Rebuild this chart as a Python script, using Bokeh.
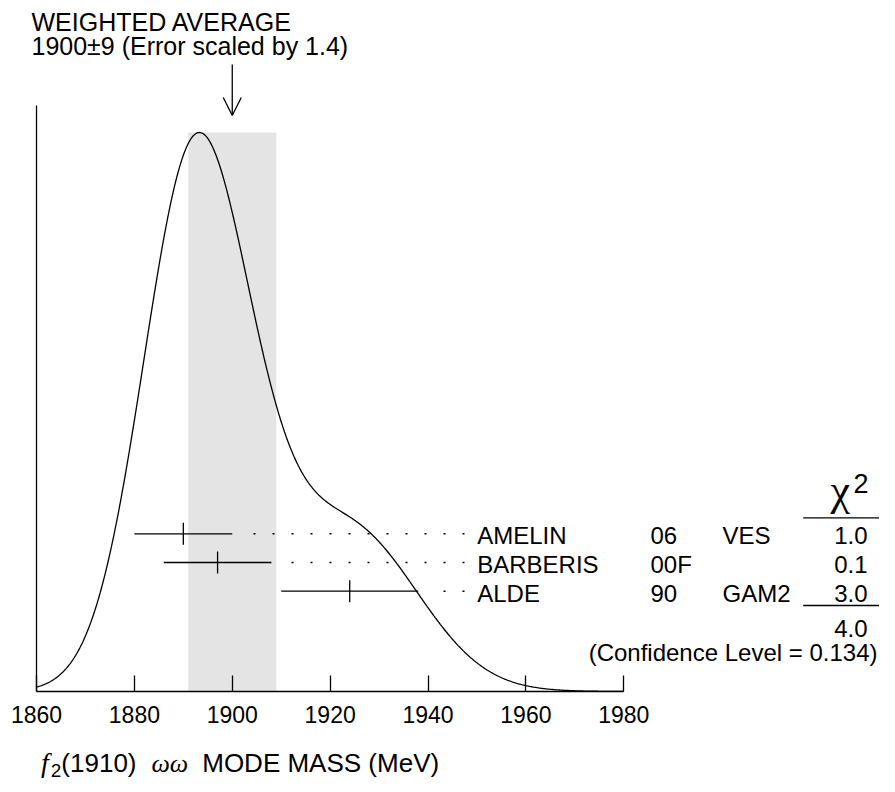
import numpy as np
from bokeh.plotting import figure
from bokeh.layouts import column
from bokeh.models import (LinearAxis, FixedTicker, Range1d, Label, Arrow, OpenHead, Div)
from bokeh.embed import file_html
from bokeh.resources import INLINE
from bokeh.core.properties import value

# ---------------- data ----------------
names = ["AMELIN", "BARBERIS", "ALDE"]
years = ["06", "00F", "90"]
experiments = ["VES", "", "GAM2"]
masses = [1890.0, 1897.0, 1924.0]
errors = [10.0, 11.0, 14.0]
chi2 = ["1.0", "0.1", "3.0"]
chi2_total = "4.0"
conf_level = "0.134"
avg_mass = 1900.0
avg_error = 9.0
err_scale = 1.4
tick_values = [1860, 1880, 1900, 1920, 1940, 1960, 1980]
tick_labels = ["1860", "1880", "1900", "1920", "1940", "1960", "1980"]

# ---------------- layout helpers (picture px -> data) ----------------
W = 879
FIG_H = 742
DIV_H = 776 - FIG_H
AX0_PX = 36.0          # x of axis start
PX_PER_MEV = 4.894
BASE_PY = 691.0        # y of baseline
PX_PER_UNIT = 559.0    # px per unit ideogram height
FONT = "Liberation Sans"


def mx(px):
    return tick_values[0] + (px - AX0_PX) / PX_PER_MEV


def vy(py):
    return (BASE_PY - py) / PX_PER_UNIT


p = figure(width=W, height=FIG_H, output_backend="svg", toolbar_location=None,
           x_range=Range1d(mx(0), mx(W)), y_range=Range1d(0, vy(0)),
           x_axis_type=None, y_axis_type=None,
           min_border_left=0, min_border_right=0, min_border_top=0,
           min_border_bottom=FIG_H - int(BASE_PY))
p.outline_line_color = None
p.background_fill_color = "white"
p.border_fill_color = "white"

# ---------------- ideogram ----------------
m = np.array(masses)
e = np.array(errors)
xs = np.linspace(tick_values[0], tick_values[-1], 721)
ys = np.zeros_like(xs)
for mi, ei in zip(m, e):
    ys += (1.0 / ei ** 2) * np.exp(-(xs - mi) ** 2 / (2 * ei ** 2))
ys = ys / ys.max()

# weighted average band
p.quad(left=[avg_mass - avg_error], right=[avg_mass + avg_error], bottom=[0], top=[ys.max()],
       fill_color="#e4e4e4", line_color=None)

p.line(xs, ys, line_color="black", line_width=1.3)

# vertical axis line
p.segment(x0=[tick_values[0]], y0=[0], x1=[tick_values[0]], y1=[vy(105)],
          line_color="black", line_width=1.3)

# x axis
ax = LinearAxis(bounds=(tick_values[0], tick_values[-1]),
                ticker=FixedTicker(ticks=tick_values),
                major_label_overrides={v: s for v, s in zip(tick_values, tick_labels)},
                major_tick_in=16, major_tick_out=0, minor_tick_in=0, minor_tick_out=0,
                axis_line_color="black", axis_line_width=1.3,
                major_tick_line_color="black", major_tick_line_width=1.3,
                major_label_text_font=FONT, major_label_text_font_size="23px",
                major_label_text_color="black", major_label_standoff=14)
p.add_layout(ax, "below")

# ---------------- measurements ----------------
row_py = [533.3 + i * 28.7 for i in range(len(names))]
row_y = [vy(py) for py in row_py]
tick_half = 11.0 / PX_PER_UNIT

p.segment(x0=list(m - e), x1=list(m + e), y0=row_y, y1=row_y,
          line_color="black", line_width=1.3)
p.segment(x0=list(m), x1=list(m), y0=[y - tick_half for y in row_y],
          y1=[y + tick_half for y in row_y], line_color="black", line_width=1.3)
# dotted leaders
p.segment(x0=[mx(464)] * len(names), x1=list(m + e + 12.0 / PX_PER_MEV),
          y0=row_y, y1=row_y, line_color="black", line_width=1.5, line_dash="2 17")

text_y = [vy(py + 2.0) for py in row_py]
common = dict(text_font=value(FONT), text_font_size=value("24px"),
              text_baseline="middle", text_color="black")
p.text(x=[mx(476.7)] * len(names), y=text_y, text=names, text_align="left", **common)
p.text(x=[mx(650)] * len(names), y=text_y, text=years, text_align="left", **common)
p.text(x=[mx(722)] * len(names), y=text_y, text=experiments, text_align="left", **common)
p.text(x=[mx(867)] * len(names), y=text_y, text=chi2, text_align="right", **common)
p.text(x=[mx(867)], y=[vy(628)], text=[chi2_total], text_align="right", **common)
p.text(x=[mx(877)], y=[vy(652)], text=[f"(Confidence Level = {conf_level})"],
       text_align="right", **common)

# chi^2 header and rules
p.add_layout(Label(x=mx(830.0), y=vy(490), text="χ", text_font="Liberation Serif",
                   text_font_size="44px", text_baseline="middle", text_color="black"))
p.add_layout(Label(x=mx(853), y=vy(483), text="2", text_font=FONT,
                   text_font_size="27px", text_baseline="middle", text_color="black"))
p.segment(x0=[mx(802.7)] * 2, x1=[mx(W)] * 2, y0=[vy(517.3), vy(605)], y1=[vy(517.3), vy(605)],
          line_color="black", line_width=1.3)

# ---------------- weighted average header & arrow ----------------
p.add_layout(Label(x=mx(31), y=vy(21), text="WEIGHTED AVERAGE", text_font=FONT,
                   text_font_size="25px", text_baseline="middle", text_color="black"))
p.add_layout(Label(x=mx(31), y=vy(45),
                   text=f"{avg_mass:.0f}±{avg_error:.0f} (Error scaled by {err_scale})",
                   text_font=FONT, text_font_size="25px", text_baseline="middle",
                   text_color="black"))
p.add_layout(Arrow(x_start=avg_mass, y_start=vy(64), x_end=avg_mass, y_end=vy(115),
                   line_color="black", line_width=1.3,
                   end=OpenHead(size=18, line_color="black", line_width=1.3)))

# ---------------- x-axis title (rich text, real text) ----------------
title_html = (
    '<div style="padding:8px 0 0 41px; font-family:\'Liberation Sans\'; font-size:26px; '
    'line-height:26px; white-space:nowrap; color:black;">'
    '<span style="font-family:\'Liberation Serif\'; font-style:italic; font-size:28px;">f</span>'
    '<span style="font-size:19px; position:relative; top:5px; margin-left:2px;">2</span>'
    '<span>(1910)</span>'
    '<span style="font-family:\'Liberation Serif\'; font-style:italic; margin-left:15px;">ωω</span>'
    '<span style="margin-left:14px;">MODE MASS (MeV)</span>'
    '</div>'
)
div = Div(text=title_html, width=W, height=DIV_H, margin=0)

layout = column(p, div, spacing=0)
open("out.html", "w").write(file_html(layout, INLINE))
